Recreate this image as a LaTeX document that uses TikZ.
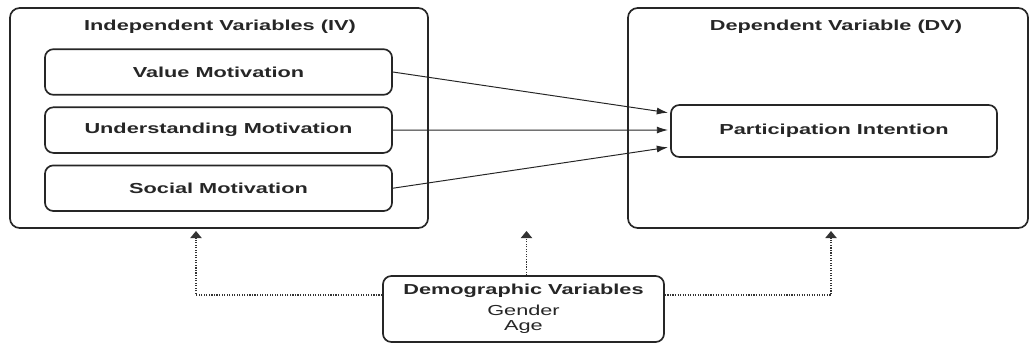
\documentclass[tikz,border=0pt]{standalone}
\usepackage{fontspec}
\setmainfont{Liberation Sans}[FakeStretch=1.5]
\usepackage{tikz}
\usetikzlibrary{arrows.meta,positioning,calc}
\newcommand{\fwfont}{\fontsize{10.3pt}{10.6pt}\selectfont}
\tikzset{
  fw/group/.style={draw=black!85, line width=1.2pt, rounded corners=7pt, inner sep=0pt},
  fw/var/.style={draw=black!85, line width=1.2pt, rounded corners=6pt, inner sep=0pt, minimum width=8.675cm, minimum height=1.14cm, font=\fwfont\bfseries, text=black!85},
  fw/title/.style={font=\fwfont\bfseries, text=black!85, inner sep=0pt},
  fw/link/.style={draw=black!85, line width=0.7pt, -{Latex[length=8pt,width=5pt]}, shorten >=1.5pt},
  fw/ctrl/.style={draw=black!80, line width=0.8pt, densely dotted, -{Triangle[length=5pt,width=8pt]}, shorten >=1.5pt}
}

\begin{document}
\begin{tikzpicture}[x=0.025cm, y=-0.025cm]
  \useasboundingbox (0,0) rectangle (1033,345);
  \node[fw/group, minimum width=10.45cm, minimum height=5.5cm] (iv) at (219,118) {};
  \node[fw/group, minimum width=10cm, minimum height=5.5cm] (dv) at (828,118) {};
  \node[fw/title] (ivtitle) at (220,27) {Independent Variables (IV)};
  \node[fw/title] (dvtitle) at (836,27) {Dependent Variable (DV)};

  \node[fw/var] (val) at (218.5,72) {Value Motivation};
  \node[fw/var, below=0.27cm of val] (und) {Understanding Motivation};
  \node[fw/var, below=0.27cm of und] (soc) {Social Motivation};
  \node[fw/var, minimum width=8.15cm, minimum height=1.3cm] (par) at (834,131) {Participation Intention};

  \draw[fw/link] (val.east) -- ($(par.west)+(0,-18)$);
  \draw[fw/link] (und.east) -- ($(par.west)+(0,-1)$);
  \draw[fw/link] (soc.east) -- ($(par.west)+(0,16)$);

  \node[fw/var, minimum width=7.025cm, minimum height=1.65cm, align=center, font=\fwfont] (demo) at (523.5,309)
    {\textbf{Demographic Variables}\\[4.5pt]Gender\\Age};
  \draw[fw/ctrl] ($(demo.west)+(0,-14)$) -| ($(iv.south)+(-23,0)$);
  \draw[fw/ctrl] ($(demo.north)+(3,0)$) -- ($(iv.south -| demo.north)+(3,0)$);
  \draw[fw/ctrl] ($(demo.east)+(0,-14)$) -| ($(dv.south)+(3,0)$);
\end{tikzpicture}
\end{document}
